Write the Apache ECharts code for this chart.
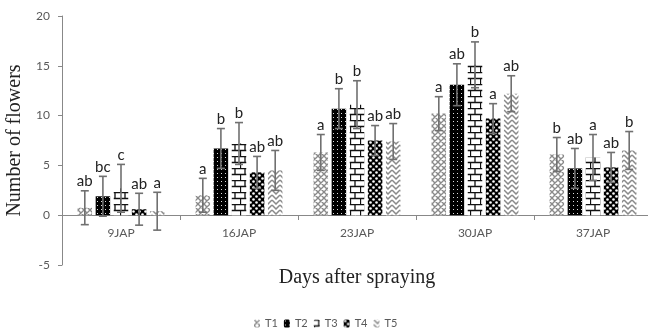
<!DOCTYPE html>
<html><head><meta charset="utf-8">
<script src="https://cdn.jsdelivr.net/npm/echarts@6/dist/echarts.min.js"></script>
<style>html,body{margin:0;padding:0;background:#fff;overflow:hidden}#c{width:648px;height:333px}</style>
</head><body><div id="c"></div>
<script>
var categories = ['9JAP','16JAP','23JAP','30JAP','37JAP'];
var seriesNames = ['T1','T2','T3','T4','T5'];
var T1 = [0.75, 2.0, 6.3, 10.2, 6.1];
var T2 = [1.9, 6.7, 10.7, 13.1, 4.7];
var T3 = [2.7, 7.2, 11.1, 15.1, 5.8];
var T4 = [0.6, 4.3, 7.5, 9.7, 4.8];
var T5 = [0.4, 4.5, 7.4, 12.2, 6.5];
var E1 = [1.7, 1.7, 1.8, 1.7, 1.7];
var E2 = [2.0, 2.0, 2.0, 2.1, 2.0];
var E3 = [2.4, 2.1, 2.4, 2.3, 2.3];
var E4 = [1.6, 1.6, 1.5, 1.5, 1.5];
var E5 = [1.9, 2.0, 1.8, 1.8, 1.9];
var L1 = ['ab','a','a','a','b'];
var L2 = ['bc','b','b','ab','ab'];
var L3 = ['c','b','b','b','a'];
var L4 = ['ab','ab','ab','a','ab'];
var L5 = ['a','ab','ab','ab','b'];
var yTicks = [-5, 0, 5, 10, 15, 20];

var values = [T1,T2,T3,T4,T5];
var errs = [E1,E2,E3,E4,E5];
var letters = [L1,L2,L3,L4,L5];

function mk(w,h,draw){var c=document.createElement('canvas');c.width=w;c.height=h;var g=c.getContext('2d');draw(g);return c;}
var patterns = [
  mk(6,6,function(g){g.fillStyle='#fff';g.fillRect(0,0,6,6);g.strokeStyle='#8a8a8a';g.lineWidth=1.4;
    g.beginPath();g.moveTo(-1,-1);g.lineTo(7,7);g.moveTo(-1,5);g.lineTo(1,7);g.moveTo(5,-1);g.lineTo(7,1);
    g.moveTo(7,-1);g.lineTo(-1,7);g.moveTo(1,-1);g.lineTo(-1,1);g.moveTo(7,5);g.lineTo(5,7);g.stroke();}),
  mk(4,4,function(g){g.fillStyle='#000';g.fillRect(0,0,4,4);g.fillStyle='#ddd';g.fillRect(1,1,1,1);}),
  mk(10,12,function(g){g.fillStyle='#fff';g.fillRect(0,0,10,12);g.strokeStyle='#111';g.lineWidth=1.3;
    g.beginPath();g.moveTo(0,0.5);g.lineTo(10,0.5);g.moveTo(0,6.5);g.lineTo(10,6.5);
    g.moveTo(5,0.5);g.lineTo(5,6.5);g.moveTo(0.5,6.5);g.lineTo(0.5,12);g.stroke();}),
  mk(6,6,function(g){g.fillStyle='#000';g.fillRect(0,0,6,6);g.fillStyle='#fff';
    g.beginPath();g.arc(1.5,1.5,1.3,0,7);g.fill();g.beginPath();g.arc(4.5,4.5,1.3,0,7);g.fill();}),
  mk(8,5,function(g){g.fillStyle='#fff';g.fillRect(0,0,8,5);g.strokeStyle='#8a8a8a';g.lineWidth=1.5;
    g.beginPath();g.moveTo(0,0);g.lineTo(4,4);g.lineTo(8,0);g.moveTo(0,5);g.lineTo(4,9);g.lineTo(8,5);g.moveTo(0,-5);g.lineTo(4,-1);g.lineTo(8,-5);g.stroke();})
];

var BW = 14.5, GAP = 3.6;
var series = [];
seriesNames.forEach(function(n,i){
  series.push({name:n,type:'bar',data:values[i],barWidth:BW,barGap:(GAP/BW*100)+'%',
    itemStyle:{color:{image:patterns[i],repeat:'repeat'}},z:2});
});
seriesNames.forEach(function(n,i){
  var data = categories.map(function(c,k){return [k, values[i][k], errs[i][k]];});
  series.push({type:'custom',name:n+'err',data:data,z:5,silent:true,
    renderItem:function(params,api){
      var k=api.value(0), v=api.value(1), e=api.value(2);
      var total = 5*BW+4*GAP;
      var off = -total/2 + BW/2 + i*(BW+GAP);
      var top = api.coord([k, v+e]), bot = api.coord([k, v-e]);
      var x = top[0]+off;
      var st={stroke:'#707070',lineWidth:1.6};
      return {type:'group',children:[
        {type:'line',shape:{x1:x,y1:top[1],x2:x,y2:bot[1]},style:st},
        {type:'line',shape:{x1:x-4,y1:top[1],x2:x+4,y2:top[1]},style:st},
        {type:'line',shape:{x1:x-4,y1:bot[1],x2:x+4,y2:bot[1]},style:st},
        {type:'text',style:{x:x,y:top[1]-2,text:letters[i][k],textAlign:'center',textVerticalAlign:'bottom',
          font:'15px Lato',fill:'#222'}}
      ]};
    }});
});

var chart = echarts.init(document.getElementById('c'),null,{renderer:'canvas'});
chart.setOption({
  animation:false,
  grid:{left:62,right:-4,top:16,bottom:68,outerBoundsMode:'none',containLabel:false},
  legend:{data:seriesNames,left:249,top:313,itemWidth:6,itemHeight:8,itemGap:6,
    textStyle:{fontFamily:'Lato',fontSize:11,color:'#595959'}},
  xAxis:{type:'category',data:categories,offset:-50,
    axisLine:{onZero:false,lineStyle:{color:'#888',width:1}},
    axisTick:{show:true,length:5,lineStyle:{color:'#888'}},
    axisLabel:{fontFamily:'Lato',fontSize:12,color:'#595959',margin:12},
    name:'Days after spraying',nameLocation:'middle',nameGap:53,
    nameTextStyle:{fontFamily:'Liberation Serif',fontSize:20,color:'#222'}},
  yAxis:{type:'value',min:yTicks[0],max:yTicks[yTicks.length-1],interval:5,
    axisLine:{show:true,lineStyle:{color:'#888'}},
    axisTick:{show:true,length:4,lineStyle:{color:'#888'}},
    splitLine:{show:false},
    axisLabel:{fontFamily:'Lato',fontSize:12,color:'#595959',margin:12},
    name:'Number of flowers',nameLocation:'middle',nameGap:29,
    nameTextStyle:{fontFamily:'Liberation Serif',fontSize:20,color:'#222'}},
  series:series
});
</script></body></html>
